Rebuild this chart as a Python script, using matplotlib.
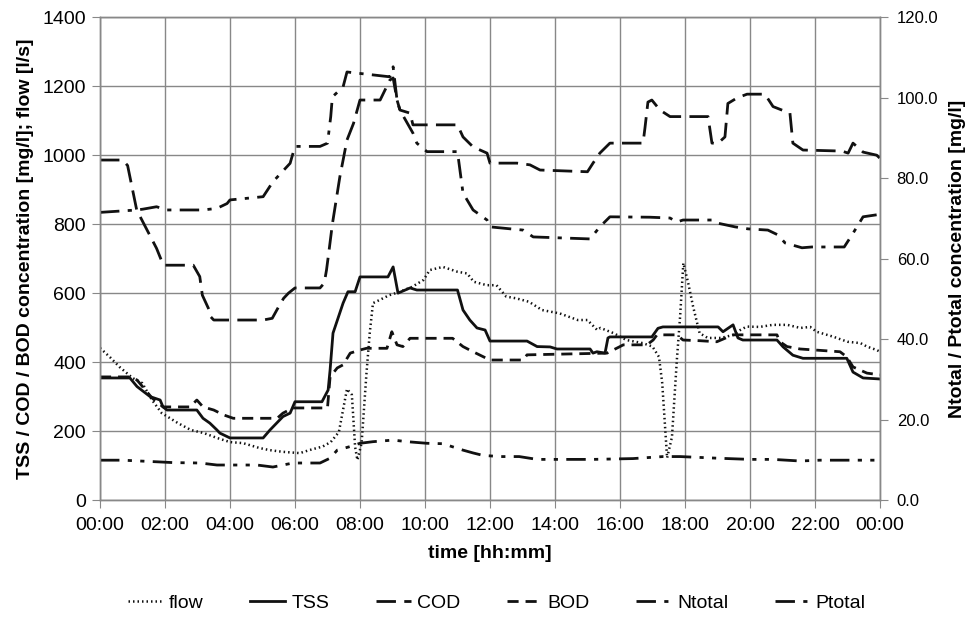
import matplotlib
matplotlib.use('Agg')
from matplotlib import pyplot as plt

plt.rcParams['font.family'] = ['Liberation Sans', 'DejaVu Sans']

# Daily profiles, (hour, value). flow in l/s, TSS/COD/BOD in mg/l on left axis,
# Ntotal/Ptotal in mg/l on right axis.
flow = [(0, 441), (0.3, 415), (0.6, 386), (1.0, 354), (1.3, 339), (1.6, 290),
        (1.9, 252), (2.4, 223), (2.8, 203), (3.2, 194), (3.6, 180), (4.0, 168),
        (4.4, 165), (4.9, 151), (5.2, 145), (5.6, 140), (6.15, 136), (6.45, 145),
        (6.85, 155), (7.1, 168), (7.35, 197), (7.6, 322), (7.75, 305), (7.85, 154),
        (7.92, 116), (8.05, 165), (8.2, 368), (8.3, 484), (8.4, 571), (8.6, 580),
        (8.9, 594), (9.2, 603), (9.6, 618), (9.95, 638), (10.15, 667), (10.55, 676),
        (11.0, 662), (11.3, 657), (11.5, 633), (11.9, 623), (12.2, 623), (12.5, 590),
        (12.8, 585), (13.2, 575), (13.6, 551), (14.15, 541), (14.7, 522), (15.0, 522),
        (15.3, 493), (15.4, 499), (15.8, 484), (16.2, 464), (16.7, 455), (17.0, 445),
        (17.2, 415), (17.3, 339), (17.45, 122), (17.6, 183), (17.75, 406), (17.85, 532),
        (17.95, 687), (18.1, 629), (18.25, 561), (18.45, 484), (18.7, 470), (19.1, 470),
        (19.5, 479), (19.7, 493), (19.9, 503), (20.3, 502), (20.7, 508), (21.15, 508),
        (21.55, 499), (21.85, 502), (22.05, 488), (22.55, 474), (23.0, 459), (23.4, 455),
        (23.6, 445), (23.9, 435), (24, 430)]

tss = [(0, 354), (0.92, 354), (1.14, 329), (1.54, 300), (1.85, 290), (1.94, 270),
       (2.06, 261), (2.98, 261), (3.17, 237), (3.38, 223), (3.6, 203), (3.69, 194),
       (4.0, 180), (5.02, 180), (5.23, 203), (5.63, 242), (5.85, 252), (6.0, 285),
       (6.83, 285), (7.02, 319), (7.08, 377), (7.17, 484), (7.48, 571), (7.63, 604),
       (7.85, 604), (8.0, 647), (8.86, 647), (9.02, 676), (9.17, 600), (9.54, 615),
       (9.75, 609), (11.0, 609), (11.17, 551), (11.38, 522), (11.6, 499), (11.85, 493),
       (12.0, 461), (13.14, 461), (13.45, 445), (13.85, 444), (14.06, 438), (15.08, 438),
       (15.17, 426), (15.29, 430), (15.54, 426), (15.63, 470), (15.69, 473), (16.98, 473),
       (17.17, 498), (17.32, 502), (19.02, 502), (19.17, 488), (19.48, 508), (19.63, 470),
       (19.78, 464), (20.83, 464), (21.02, 444), (21.32, 420), (21.63, 411), (22.98, 411),
       (23.17, 371), (23.48, 354), (24, 351)]

cod = [(0, 986), (0.7, 986), (0.85, 970), (1.13, 841), (1.74, 730), (1.95, 681),
       (2.87, 681), (3.07, 648), (3.15, 594), (3.36, 551), (3.4, 532), (3.5, 522),
       (5.02, 522), (5.3, 527), (5.5, 561), (5.65, 585), (5.8, 600), (6.0, 615),
       (6.77, 615), (6.9, 629), (6.97, 667), (7.05, 725), (7.15, 800), (7.38, 937),
       (7.6, 1044), (7.8, 1092), (8.0, 1160), (8.62, 1160), (8.92, 1218), (9.02, 1224),
       (9.14, 1160), (9.23, 1131), (9.54, 1122), (9.63, 1088), (11.0, 1088), (11.17, 1053),
       (11.48, 1024), (11.91, 1006), (12.0, 977), (12.83, 977), (13.23, 972), (13.54, 957),
       (15.0, 952), (15.17, 977), (15.38, 1006), (15.69, 1035), (16.71, 1035), (16.77, 1080),
       (16.86, 1154), (16.98, 1160), (17.23, 1131), (17.54, 1112), (18.71, 1112), (18.83, 1035),
       (19.02, 1035), (19.23, 1053), (19.32, 1150), (19.6, 1166), (19.91, 1177), (20.46, 1177),
       (20.71, 1141), (20.98, 1131), (21.23, 1122), (21.32, 1035), (21.63, 1015), (22.83, 1012),
       (23.02, 1006), (23.17, 1035), (23.48, 1009), (23.9, 1000), (24, 991)]

bod = [(0, 357), (0.92, 357), (1.14, 348), (1.6, 296), (1.94, 270), (2.77, 270),
       (2.98, 290), (3.17, 270), (3.5, 261), (3.8, 247), (4.1, 237), (5.45, 237),
       (5.63, 252), (5.94, 267), (7.0, 267), (7.08, 357), (7.3, 383), (7.48, 392),
       (7.7, 426), (8.0, 435), (8.2, 440), (8.83, 440), (8.98, 488), (9.14, 450),
       (9.32, 445), (9.54, 469), (10.85, 469), (11.17, 445), (11.48, 430), (12.0, 406),
       (13.02, 406), (13.14, 421), (15.6, 426), (16.0, 445), (16.1, 450), (16.83, 450),
       (17.02, 464), (17.14, 479), (17.75, 479), (17.94, 464), (18.46, 462), (18.98, 459),
       (19.48, 479), (20.83, 479), (20.92, 459), (21.14, 445), (21.54, 438), (22.77, 430),
       (22.98, 415), (23.17, 386), (23.6, 368), (24, 363)]

ntotal = [(0, 71.5), (1.13, 72.1), (1.32, 72.3), (1.74, 72.9), (2.06, 72.1), (3.17, 72.1),
          (3.6, 72.5), (3.91, 73.7), (4.0, 74.6), (4.52, 75.0), (5.02, 75.4), (5.32, 79.1),
          (5.85, 83.7), (6.0, 87.9), (6.77, 87.9), (7.0, 88.7), (7.1, 95.3), (7.15, 100.2),
          (7.48, 102.7), (7.6, 106.4), (8.92, 105.2), (9.02, 107.7), (9.14, 99.4), (9.23, 96.9),
          (9.63, 91.2), (9.75, 88.7), (10.06, 86.6), (11.0, 86.6), (11.17, 76.3), (11.48, 72.1),
          (11.91, 69.6), (12.0, 67.9), (13.02, 67.1), (13.33, 65.4), (15.08, 64.9), (15.38, 67.9),
          (15.69, 70.4), (16.92, 70.3), (17.54, 70.1), (17.75, 69.1), (17.94, 69.6), (18.86, 69.6),
          (19.02, 68.8), (19.54, 67.9), (19.94, 67.4), (20.55, 67.1), (20.86, 65.9), (21.08, 63.9),
          (21.6, 62.7), (21.9, 62.9), (22.9, 62.9), (23.17, 66.3), (23.48, 70.4), (23.9, 70.9),
          (24, 70.7)]

ptotal = [(0, 9.9), (0.7, 9.9), (1.75, 9.5), (2.25, 9.3), (3.08, 9.2), (3.6, 8.7),
          (4.83, 8.7), (5.32, 8.2), (5.94, 9.2), (6.77, 9.2), (7.08, 10.4), (7.3, 12.4),
          (7.7, 13.3), (8.0, 14.1), (8.4, 14.5), (9.02, 14.9), (9.45, 14.5), (10.06, 14.1),
          (10.55, 14.0), (11.17, 12.4), (11.48, 11.7), (11.78, 11.1), (12.3, 10.8), (12.9, 10.8),
          (13.45, 10.1), (15.17, 10.1), (16.4, 10.3), (17.32, 10.8), (17.85, 10.8), (18.98, 10.4),
          (20.0, 10.1), (20.71, 10.1), (21.54, 9.7), (22.15, 9.9), (24, 9.9)]

hour_ticks = list(range(0, 25, 2))
hour_labels = ['%02d:00' % (h % 24) for h in hour_ticks]


def xy(series):
    return [p[0] for p in series], [p[1] for p in series]


fig = plt.figure(figsize=(9.67, 6.17), dpi=100)
ax = fig.add_axes([0.1034, 0.1896, 0.8066, 0.7824])
ax2 = ax.twinx()

ink = '#111111'
lines = []
lines += ax.plot(*xy(flow), color=ink, lw=1.8, linestyle=(0, (0.6, 1.2)), label='flow')
lines += ax.plot(*xy(tss), color=ink, lw=2.0, linestyle='-', label='TSS')
lines += ax.plot(*xy(cod), color=ink, lw=2.0, linestyle=(0, (7, 3)), label='COD')
lines += ax.plot(*xy(bod), color=ink, lw=2.0, linestyle=(0, (4, 2.5)), label='BOD')
lines += ax2.plot(*xy(ntotal), color=ink, lw=2.0, linestyle=(0, (7, 3, 1.5, 3)), label='Ntotal')
lines += ax2.plot(*xy(ptotal), color=ink, lw=2.0,
                  linestyle=(0, (7, 3, 1.5, 3, 1.5, 3)), label='Ptotal')

# left axis
ax.set_xlim(0, 24)
ax.set_ylim(0, 1400)
ax.set_xticks(hour_ticks)
ax.set_xticklabels(hour_labels)
ax.set_yticks(range(0, 1401, 200))
ax.grid(True, color='#888888', linewidth=1.0)
ax.set_axisbelow(True)
ax.tick_params(axis='both', labelsize=14, length=6, color='#888888', pad=4)
ax.tick_params(axis='x', pad=6)
ax.set_xlabel('time [hh:mm]', fontsize=14, fontweight='bold', labelpad=8)
ax.set_ylabel('TSS / COD / BOD concentration [mg/l]; flow [l/s]',
              fontsize=14, fontweight='bold', labelpad=6)

# right axis
ax2.set_ylim(0, 120)
ax2.set_yticks(range(0, 121, 20))
ax2.set_yticklabels(['%.1f' % v for v in range(0, 121, 20)])
ax2.tick_params(axis='y', labelsize=12, length=6, color='#888888', pad=6)
ax2.set_ylabel('Ntotal / Ptotal concentration [mg/l]',
               fontsize=14, fontweight='bold', labelpad=8)

for a in (ax, ax2):
    for s in a.spines.values():
        s.set_color('#888888')
        s.set_linewidth(1.0)

fig.legend(lines, [l.get_label() for l in lines], loc='center',
           bbox_to_anchor=(0.514, 0.023), ncol=6, frameon=False, fontsize=14,
           handlelength=1.8, handletextpad=0.3, columnspacing=2.4)

fig.savefig('out.png', dpi=100)
